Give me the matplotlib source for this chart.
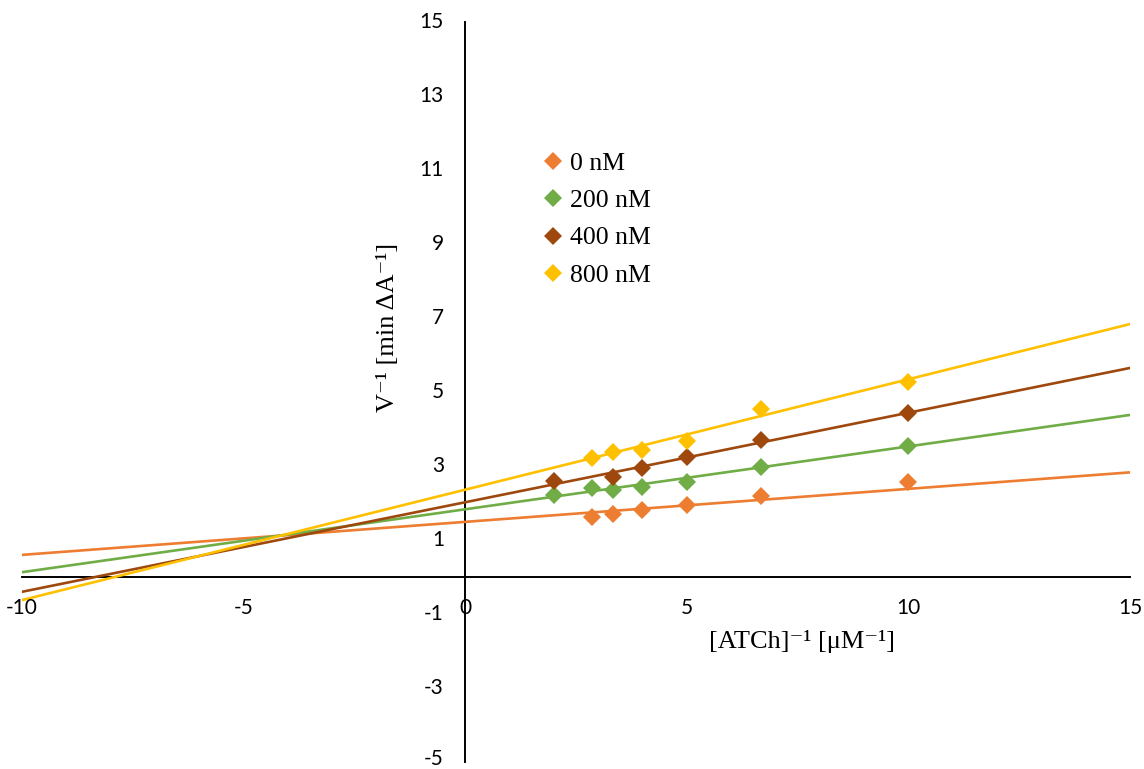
import numpy as np
import matplotlib
matplotlib.use("Agg")
import matplotlib.pyplot as plt

# ── data ──────────────────────────────────────────────────────────────────
SERIES = ["0 nM", "200 nM", "400 nM", "800 nM"]
COLORS = ["#ED7D31", "#70AD47", "#9E480E", "#FFC000"]

X_0   = [2.857, 3.333, 4.0, 5.0, 6.667, 10.0]
Y_0   = [1.63, 1.70, 1.81, 1.95, 2.20, 2.57]
X_200 = [2.0, 2.857, 3.333, 4.0, 5.0, 6.667, 10.0]
Y_200 = [2.22, 2.40, 2.35, 2.42, 2.56, 2.98, 3.55]
X_400 = [2.0, 3.333, 4.0, 5.0, 6.667, 10.0]
Y_400 = [2.60, 2.69, 2.95, 3.24, 3.70, 4.42]
X_800 = [2.857, 3.333, 4.0, 5.0, 6.667, 10.0]
Y_800 = [3.21, 3.37, 3.43, 3.68, 4.54, 5.26]

# linear trendlines: slope, intercept
SLOPES     = [0.0892, 0.170, 0.242, 0.2984]
INTERCEPTS = [1.49, 1.83, 2.02, 2.36]

X_TICKS = [-10, -5, 0, 5, 10, 15]
Y_TICKS = [-5, -3, -1, 1, 3, 5, 7, 9, 11, 13, 15]

SERIF = ["Liberation Serif", "DejaVu Serif"]
SANS = ["Lato", "DejaVu Sans"]


def main():
    fig = plt.figure(figsize=(11.44, 7.69), dpi=100)
    ax = fig.add_axes([22 / 1144, 7 / 769, 1108 / 1144, 740 / 769])

    xs = [X_0, X_200, X_400, X_800]
    ys = [Y_0, Y_200, Y_400, Y_800]
    line_x = np.array([-10.0, 15.0])
    for name, col, x, y, m, b in zip(SERIES, COLORS, xs, ys, SLOPES, INTERCEPTS):
        ax.plot(line_x, m * line_x + b, color=col, lw=1.9, zorder=2)
        ax.plot(x, y, ls="none", marker="D", ms=9.5, color=col,
                markeredgewidth=0, zorder=3, label=name)

    ax.set_xlim(-10, 15)
    ax.set_ylim(-5, 15)

    for side in ["top", "right"]:
        ax.spines[side].set_visible(False)
    ax.spines["left"].set_position(("data", 0))
    ax.spines["bottom"].set_position(("data", 0))
    for side in ["left", "bottom"]:
        ax.spines[side].set_linewidth(1.4)
        ax.spines[side].set_zorder(1)

    ax.set_xticks(X_TICKS)
    ax.set_yticks(Y_TICKS)
    ax.set_xticklabels([])
    ax.set_yticklabels([])
    ax.tick_params(length=0)

    for v in X_TICKS:
        ax.text(v, -0.84, f"{v}", ha="center", va="center",
                fontsize=15, family=SANS, zorder=4)
    for v in Y_TICKS:
        # lowest label sits on the figure edge; nudge it up a touch
        yy = v + 0.07 if v == Y_TICKS[0] else v
        ax.text(-0.48, yy, f"{v}", ha="right", va="center",
                fontsize=15, family=SANS, zorder=4)

    ax.text(7.6, -1.75, "[ATCh]\u207b\u00b9 [\u03bcM\u207b\u00b9]",
            ha="center", va="center", fontsize=19, family=SERIF)
    ax.text(-1.75, 6.75, "V\u207b\u00b9 [min \u0394A\u207b\u00b9]",
            ha="center", va="center", rotation=90, fontsize=19, family=SERIF)

    ax.legend(loc="upper left", bbox_to_anchor=(535 / 1144, 1 - 142 / 769),
              bbox_transform=fig.transFigure, frameon=False,
              prop={"family": SERIF, "size": 18.5}, handlelength=0.6,
              handletextpad=0.35, labelspacing=0.55, borderaxespad=0)

    fig.savefig("out.png", dpi=100)
    plt.close(fig)


if __name__ == "__main__":
    main()
